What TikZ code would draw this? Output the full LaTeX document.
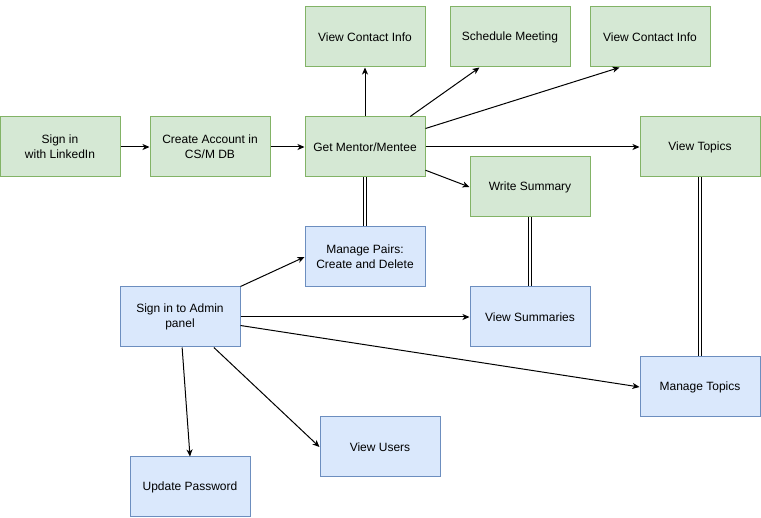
\documentclass[tikz,border=0pt]{standalone}
\usepackage{fontspec}
\setmainfont{Liberation Sans}
\usepackage{tikz}
\usetikzlibrary{arrows.meta}
\definecolor{grfill}{HTML}{D5E8D4}
\definecolor{grline}{HTML}{82B366}
\definecolor{blfill}{HTML}{DAE8FC}
\definecolor{blline}{HTML}{6C8EBF}

\begin{document}
\begin{tikzpicture}[x=1pt, y=-1pt, line width=1pt,
		box/.style={draw, minimum width=120pt, minimum height=60pt, align=center, inner sep=2pt, font=\fontsize{12}{15}\selectfont},
		usr/.style={box, fill=grfill, draw=grline},
		adm/.style={box, fill=blfill, draw=blline},
		flow/.style={-{Stealth[length=7pt, width=6pt, inset=2pt]}, black},
		link/.style={double, double distance=2.2pt, line width=0.8pt}]
			%%%%% START %%%%%
			\useasboundingbox (0, 0) rectangle (761, 518);
			
			% mentor / mentee side
			\node[usr] (lnk) at (60, 147) {Sign in\\with LinkedIn};
			\node[usr] (acct) at (210, 147) {Create Account in\\CS/M DB};
			\node[usr] (get) at (365, 147) {Get Mentor/Mentee};
			\node[usr] (info1) at (365, 37) {View Contact Info};
			\node[usr] (meet) at (510, 37) {Schedule Meeting};
			\node[usr] (info2) at (650, 37) {View Contact Info};
			\node[usr] (topics) at (700, 147) {View Topics};
			\node[usr] (summ) at (530, 187) {Write Summary};
			
			% admin side
			\node[adm] (pairs) at (365, 257) {Manage Pairs:\\Create and Delete};
			\node[adm] (admin) at (180, 317) {Sign in to Admin\\panel};
			\node[adm] (vsumm) at (530, 317) {View Summaries};
			\node[adm] (mtopics) at (700, 387) {Manage Topics};
			\node[adm] (users) at (380, 447) {View Users};
			\node[adm] (pwd) at (190, 487) {Update Password};
			
			\draw[flow] (lnk) -- (acct);
			\draw[flow] (acct) -- (get);
			\draw[flow] (get.north) -- (info1.south);
			\draw[flow] (get.34) -- (meet.225);
			\draw[flow] (get.17.6) -- (info2.225);
			\draw[flow] (get.east) -- (topics.west);
			\draw[flow] (get.-21) -- (summ.west);
			
			\draw[link] (get.south) -- (pairs.north);
			\draw[link] (summ.south) -- (vsumm.north);
			\draw[link] (topics.south) -- (mtopics.north);
			
			\draw[flow] (admin.north east) -- (pairs.west);
			\draw[flow] (admin.east) -- (vsumm.west);
			\draw[flow] (admin.-8.5) -- (mtopics.west);
			\draw[flow] (admin.-42) -- (users.west);
			\draw[flow] (admin.-86) -- (pwd.north);
			
			%%%%% END %%%%%
		\end{tikzpicture}
\end{document}
